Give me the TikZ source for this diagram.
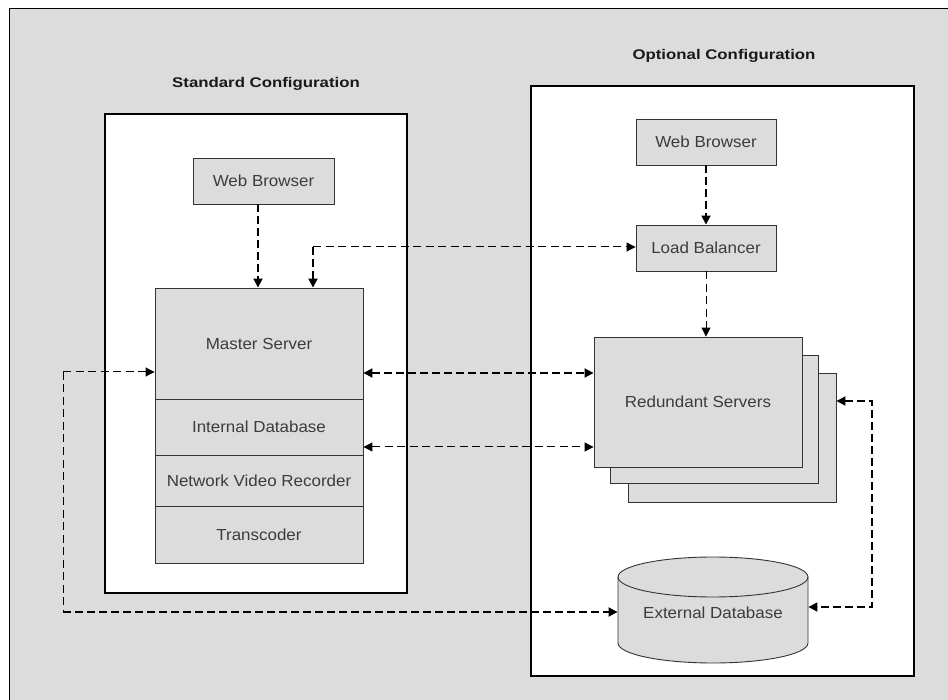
\documentclass[tikz,border=0pt]{standalone}
\usepackage{fontspec}
\setmainfont{Liberation Sans}
\newfontfamily\labfont[FakeStretch=1.06]{Liberation Sans}
\newfontfamily\headfont[FakeStretch=1.2]{Liberation Sans}
\usetikzlibrary{arrows.meta,shadows}
\definecolor{bg}{RGB}{220,220,220}
\definecolor{boxfill}{RGB}{220,220,220}
\definecolor{txt}{RGB}{60,60,60}
\tikzset{
  box/.style={draw=black!80, line width=0.9pt, fill=boxfill, inner sep=0pt, text=txt,
    font=\labfont\fontsize{16}{19}\selectfont, anchor=center},
  container/.style={draw=black, line width=1.1pt, fill=white, inner sep=0pt,
    drop shadow={shadow xshift=1.4pt, shadow yshift=-1.4pt, fill=black!35, opacity=1}},
  head/.style={font=\headfont\bfseries\fontsize{14}{17}\selectfont, text=black!90},
  dthick/.style={line width=1.8pt, dash pattern=on 8pt off 4pt},
  dthin/.style={line width=1pt, dash pattern=on 8pt off 4.5pt},
  tip/.style={-{Triangle[length=9pt,width=9pt]}},
  tips/.style={{Triangle[length=9pt,width=9pt]}-{Triangle[length=9pt,width=9pt]}},
}
\begin{document}
\begin{tikzpicture}[x=1pt,y=-1pt]
\useasboundingbox (0,0) rectangle (948,700);
\fill[white] (0,0) rectangle (948,700);
\fill[bg] (9.5,8.5) rectangle (950,702);
\draw[line width=1.5pt] (9.5,702) -- (9.5,8.5) -- (950,8.5);

% containers
\node[container, minimum width=302, minimum height=479] (stdc) at (256,353.5) {};
\node[container, minimum width=383, minimum height=590] (optc) at (722.5,381) {};
\node[head] (stdh) at (266,84) {Standard Configuration};
\node[head] (opth) at (724,56) {Optional Configuration};

% standard configuration
\node[box, minimum width=141, minimum height=46] (wbl) at (263.5,181) {Web Browser};
\node[box, minimum width=208, minimum height=111] (ms) at (259,343.5) {Master Server};
\node[box, minimum width=208, minimum height=56] (idb) at (259,427) {Internal Database};
\node[box, minimum width=208, minimum height=51] (nvr) at (259,480.5) {Network Video Recorder};
\node[box, minimum width=208, minimum height=57] (tc) at (259,534.5) {Transcoder};

% optional configuration
\node[box, minimum width=140, minimum height=46] (wbr) at (706,142) {Web Browser};
\node[box, minimum width=140, minimum height=46] (lb) at (706,248) {Load Balancer};
\node[box, minimum width=208, minimum height=129] (rs3) at (732,437.5) {};
\node[box, minimum width=208, minimum height=128] (rs2) at (714,419) {};
\node[box, minimum width=208, minimum height=130] (rs1) at (698,402) {Redundant Servers};

% external database cylinder
\draw[fill=boxfill, draw=black!80, line width=0.9pt]
  (618,577) -- (618,643) arc[start angle=180, end angle=0, x radius=95, y radius=20]
  -- (808,577) arc[start angle=0, end angle=-180, x radius=95, y radius=20] -- cycle;
\draw[draw=black!80, line width=0.9pt] (618,577) arc[start angle=180, end angle=0, x radius=95, y radius=20];
\node[box, draw=none, fill=none, minimum width=190, minimum height=60] (edb) at (713,613) {External Database};

% connectors
\coordinate (xa) at (258,0);
\draw[dthick,tip] (xa |- wbl.south) -- (xa |- ms.north);
\coordinate (xb) at (313,247);
\draw[dthin,tip] (xb) -- (xb -| lb.west);
\draw[dthick,tip] (xb) -- (xb |- ms.north);
\coordinate (ya) at (0,373);
\draw[dthick,tips] (ya -| ms.east) -- (ya -| rs1.west);
\coordinate (yb) at (0,447);
\draw[dthin,tips] (yb -| idb.east) -- (yb -| rs1.west);
\coordinate (c1) at (63,372);
\coordinate (c2) at (63,612);
\draw[dthin,tip] (c1) -- (c1 -| ms.west);
\draw[dthin] (c1) -- (c2);
\draw[dthick,tip] (c2) -- (c2 -| edb.west);
\coordinate (c3) at (872,401);
\coordinate (c4) at (872,607);
\draw[dthick,tips] (c3 -| rs3.east) -- (c3) -- (c4) -- (c4 -| edb.east);
\draw[dthick,tip] (wbr.south) -- (lb.north);
\draw[dthin,tip] (lb.south) -- (lb.south |- rs1.north);
\end{tikzpicture}
\end{document}
